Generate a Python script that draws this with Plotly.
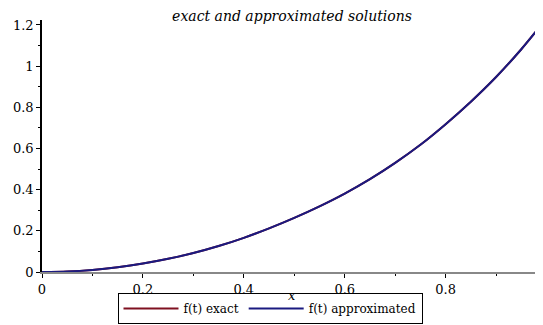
import plotly.graph_objects as go

t_values = [0.0, 0.05, 0.1, 0.15, 0.2, 0.25, 0.3, 0.35, 0.4, 0.45, 0.5,
            0.55, 0.6, 0.65, 0.7, 0.75, 0.8, 0.85, 0.9, 0.95, 1.0]
f_exact = [0.0, 0.0025, 0.010, 0.023, 0.041, 0.064, 0.092, 0.126, 0.166, 0.212, 0.263,
           0.319, 0.381, 0.451, 0.530, 0.618, 0.718, 0.827, 0.947, 1.082, 1.232]
f_approx = [0.0, 0.0025, 0.010, 0.023, 0.041, 0.064, 0.092, 0.126, 0.166, 0.212, 0.263,
            0.319, 0.381, 0.451, 0.530, 0.618, 0.718, 0.827, 0.947, 1.082, 1.232]

x_ticks = [0, 0.2, 0.4, 0.6, 0.8, 1]
x_tick_labels = ["0", "0.2", "0.4", "0.6", "0.8", "1"]
y_ticks = [0, 0.2, 0.4, 0.6, 0.8, 1, 1.2]
y_tick_labels = ["0", "0.2", "0.4", "0.6", "0.8", "1", "1.2"]

serif = "DejaVu Serif, serif"
W, H = 543, 325
OFF = 8  # page body margin offset

fig = go.Figure()
fig.add_trace(go.Scatter(x=t_values, y=f_exact, mode="lines", name="f(t) exact",
                         line=dict(color="#7f1020", width=2, shape="spline", smoothing=0.8)))
fig.add_trace(go.Scatter(x=t_values, y=f_approx, mode="lines", name="f(t) approximated",
                         line=dict(color="#1a1a80", width=2, shape="spline", smoothing=0.8)))

fig.update_layout(
    width=W, height=H,
    margin=dict(l=41.5 - OFF, r=OFF, t=20 - OFF, b=H - (271.7 - OFF)),
    paper_bgcolor="white", plot_bgcolor="white",
    font=dict(family=serif, size=13, color="black"),
    title=dict(text="<i>exact and approximated solutions</i>",
               xref="container", yref="container",
               x=(292 - OFF) / W, xanchor="center",
               y=1 - (16 - OFF) / H, yanchor="middle",
               font=dict(family=serif, size=14, color="black")),
    showlegend=True,
    legend=dict(orientation="h", xref="container", yref="container",
                x=(270 - OFF) / W, xanchor="center", y=1 - (293 - OFF) / H, yanchor="top",
                bordercolor="black", borderwidth=1, bgcolor="white",
                font=dict(family=serif, size=12, color="black"),
                itemwidth=55, tracegroupgap=0),
    xaxis=dict(range=[0, 0.993], tickvals=x_ticks, ticktext=x_tick_labels, automargin=False,
               showgrid=False, zeroline=False, showline=True, linecolor="#888888", linewidth=2,
               ticks="outside", ticklen=4, tickcolor="black", tickfont=dict(size=13),
               minor=dict(dtick=0.1, ticks="outside", ticklen=2, tickcolor="black")),
    yaxis=dict(range=[0, 1.224], tickvals=y_ticks, ticktext=y_tick_labels, automargin=False,
               showgrid=False, zeroline=False, showline=True, linecolor="black", linewidth=1.5,
               ticks="outside", ticklen=4, tickcolor="black", tickfont=dict(size=13),
               minor=dict(dtick=0.1, ticks="outside", ticklen=2, tickcolor="black")),
    annotations=[dict(text="<i>x</i>", xref="paper", yref="paper",
                      x=(292 - 41.5) / (543 - 41.5), y=-(295 - 271.7) / (271.7 - 20),
                      xanchor="center", yanchor="middle", showarrow=False,
                      font=dict(family=serif, size=13, color="black"))],
)

fig.write_html("out.html")
